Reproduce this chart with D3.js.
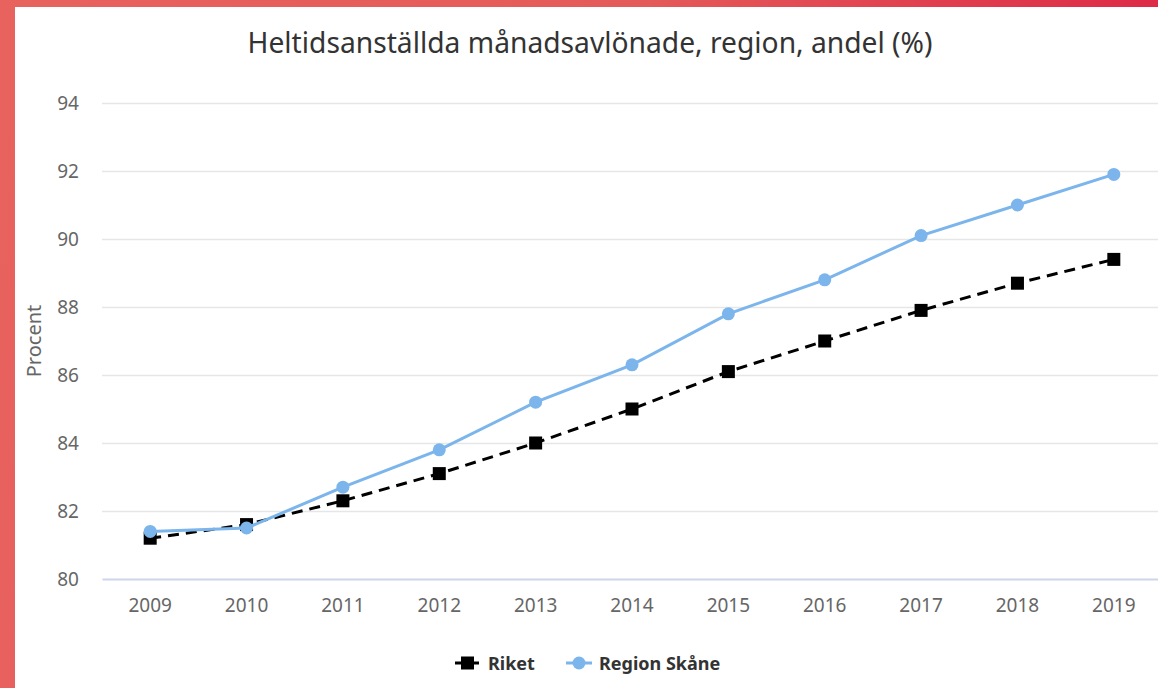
<!DOCTYPE html>
<html>
<head>
<meta charset="utf-8">
<script src="https://cdn.jsdelivr.net/npm/d3@7"></script>
<style>
  html, body { margin: 0; padding: 0; }
  body {
    width: 1158px; height: 688px; overflow: hidden; position: relative;
    background: linear-gradient(100deg, #e8625e 0%, #e45a5a 50%, #dc1f42 100%);
  }
  #panel { position: absolute; left: 15px; top: 7px; width: 1143px; height: 681px; background: #fff; }
  svg { display: block; }
</style>
</head>
<body>
<div id="panel"><svg id="svg" width="1143" height="681"></svg></div>
<script>
// chart data
const years = ["2009", "2010", "2011", "2012", "2013", "2014", "2015", "2016", "2017", "2018", "2019"];
const riket = [81.2, 81.6, 82.3, 83.1, 84.0, 85.0, 86.1, 87.0, 87.9, 88.7, 89.4];
const skane = [81.4, 81.5, 82.7, 83.8, 85.2, 86.3, 87.8, 88.8, 90.1, 91.0, 91.9];
const yTicks = [80, 82, 84, 86, 88, 90, 92, 94];
const titleText = "Heltidsanställda månadsavlönade, region, andel (%)";

const font = "'Noto Sans', sans-serif";
const svg = d3.select("#svg");

// plot area (panel coordinates, panel is offset by 15,7)
const plotLeft = 87, plotRight = 1147, plotTop = 96, plotBottom = 572;

const xScale = d3.scaleBand().domain(years).range([plotLeft, plotRight]);
const yScale = d3.scaleLinear().domain([80, 94]).range([plotBottom, plotTop]);
const cx = d => xScale(d) + xScale.bandwidth() / 2;

// title
svg.append("text")
  .attr("x", 575).attr("y", 46)
  .attr("text-anchor", "middle")
  .attr("font-family", font).attr("font-size", 29)
  .attr("textLength", 685).attr("lengthAdjust", "spacingAndGlyphs")
  .attr("fill", "#333")
  .text(titleText);

// grid
svg.append("g")
  .selectAll("line")
  .data(yTicks.slice(1))
  .join("line")
  .attr("x1", plotLeft).attr("x2", plotRight)
  .attr("y1", d => yScale(d) + 0.5).attr("y2", d => yScale(d) + 0.5)
  .attr("stroke", "#e6e6e6").attr("stroke-width", 1.5);

// y axis labels
const yAxis = svg.append("g")
  .attr("transform", `translate(${plotLeft - 23},0)`)
  .call(d3.axisLeft(yScale).tickValues(yTicks).tickSize(0).tickPadding(0));
yAxis.select(".domain").remove();
yAxis.selectAll("text")
  .attr("font-family", font).attr("font-size", 19).attr("fill", "#666")
  .attr("dy", "0.36em");

// x axis
const xAxis = svg.append("g")
  .attr("transform", `translate(0,${plotBottom})`)
  .call(d3.axisBottom(xScale).tickSize(0).tickPadding(20));
xAxis.select(".domain").attr("stroke", "#ccd6eb").attr("stroke-width", 2);
xAxis.selectAll("text")
  .attr("font-family", font).attr("font-size", 19).attr("fill", "#666");

// y axis title
svg.append("text")
  .attr("transform", `translate(26,${(plotTop + plotBottom) / 2}) rotate(-90)`)
  .attr("text-anchor", "middle")
  .attr("font-family", font).attr("font-size", 20).attr("fill", "#666")
  .text("Procent");

const line = d3.line().x((d, i) => cx(years[i])).y(d => yScale(d));

// Riket (dashed black, squares)
svg.append("path")
  .datum(riket)
  .attr("d", line)
  .attr("fill", "none").attr("stroke", "#000")
  .attr("stroke-width", 3).attr("stroke-dasharray", "11,7");
svg.append("g")
  .selectAll("rect")
  .data(riket)
  .join("rect")
  .attr("x", (d, i) => cx(years[i]) - 6.5)
  .attr("y", d => yScale(d) - 6.5)
  .attr("width", 13).attr("height", 13)
  .attr("fill", "#000");

// Region Skåne (blue, circles)
svg.append("path")
  .datum(skane)
  .attr("d", line)
  .attr("fill", "none").attr("stroke", "#7cb5ec")
  .attr("stroke-width", 3);
svg.append("g")
  .selectAll("circle")
  .data(skane)
  .join("circle")
  .attr("cx", (d, i) => cx(years[i]))
  .attr("cy", d => yScale(d))
  .attr("r", 6.5)
  .attr("fill", "#7cb5ec");

// legend
const legend = svg.append("g").attr("transform", "translate(0,656)");
const items = [
  { name: "Riket", x: 440, color: "#000", dash: "6,3", shape: "square" },
  { name: "Region Skåne", x: 551, color: "#7cb5ec", dash: null, shape: "circle" }
];
items.forEach(it => {
  const g = legend.append("g").attr("transform", `translate(${it.x},0)`);
  g.append("line")
    .attr("x1", 0).attr("x2", 26).attr("y1", 0).attr("y2", 0)
    .attr("stroke", it.color).attr("stroke-width", 3)
    .attr("stroke-dasharray", it.dash);
  if (it.shape === "square") {
    g.append("rect").attr("x", 6).attr("y", -6.5).attr("width", 13).attr("height", 13).attr("fill", it.color);
  } else {
    g.append("circle").attr("cx", 13).attr("cy", 0).attr("r", 6.5).attr("fill", it.color);
  }
  g.append("text")
    .attr("x", 33).attr("y", 6.5)
    .attr("font-family", font).attr("font-size", 18).attr("font-weight", "bold")
    .attr("fill", "#333")
    .text(it.name);
});
</script>
</body>
</html>
